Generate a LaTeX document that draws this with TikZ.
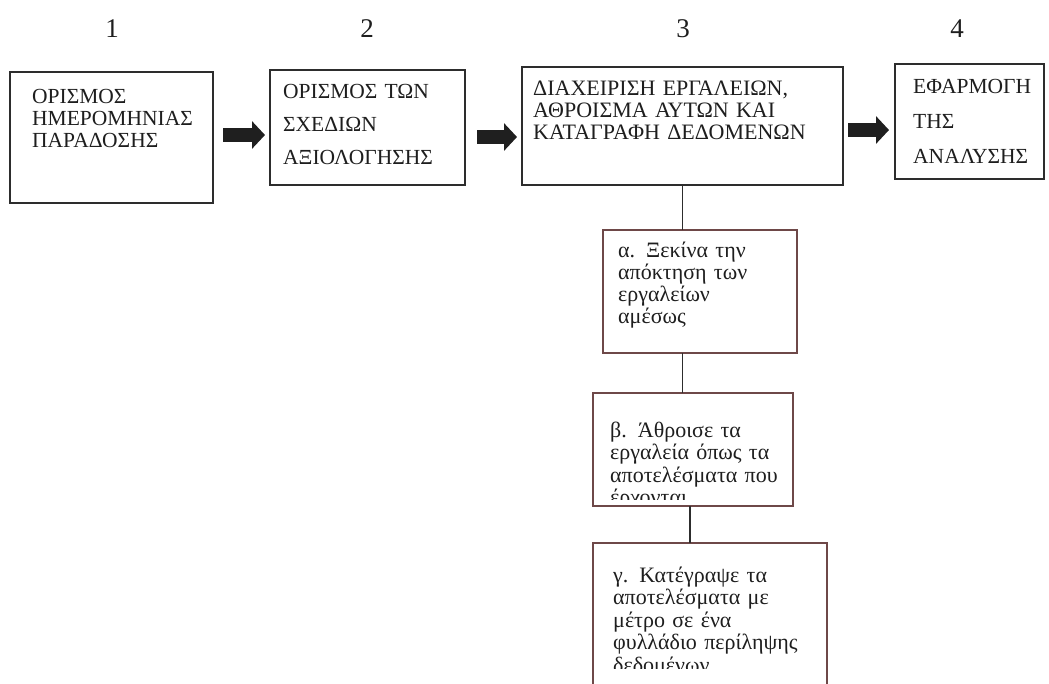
\documentclass[tikz,border=0pt]{standalone}
\usepackage{fontspec}
\setmainfont{Liberation Serif}
\usetikzlibrary{arrows.meta}
\definecolor{boxline}{RGB}{45,45,45}
\definecolor{subline}{RGB}{110,72,72}
\definecolor{inktext}{RGB}{30,30,30}
\begin{document}
\begin{tikzpicture}[x=1pt,y=-1pt,
  box/.style={draw=boxline, line width=1.3pt, rectangle, anchor=north west, inner sep=0pt, outer sep=0pt},
  subbox/.style={box, draw=subline},
  txt/.style={anchor=base west, inner sep=0pt, text width=330pt, align=left, text=inktext},
  num/.style={anchor=base, inner sep=0pt, text=inktext, font=\fontsize{27}{27}\selectfont},
  conn/.style={draw=boxline, line width=1.2pt},
  blk/.style={draw=black!88, line width=13.5pt, -{Triangle[length=13pt,width=27pt]}}]
\useasboundingbox (0,0) rectangle (1049,683);
% numbers
\node[num] (n1) at (112,37) {1};
\node[num] (n2) at (367,37) {2};
\node[num] (n3) at (683,37) {3};
\node[num] (n4) at (957,37) {4};
% top boxes
\node[box, minimum width=203pt, minimum height=131pt] (b1) at (10,72) {};
\node[box, minimum width=195pt, minimum height=115pt] (b2) at (270,70) {};
\node[box, minimum width=321pt, minimum height=118pt] (b3) at (522,67) {};
\node[box, minimum width=149pt, minimum height=115pt] (b4) at (895,64) {};
\node[txt, font=\fontsize{21.5}{22}\selectfont] (t1) at (32,103) {ΟΡΙΣΜΟΣ\\ΗΜΕΡΟΜΗΝΙΑΣ\\ΠΑΡΑΔΟΣΗΣ};
\node[txt, font=\fontsize{21.5}{33}\selectfont] (t2) at (283,98) {ΟΡΙΣΜΟΣ ΤΩΝ\\ΣΧΕΔΙΩΝ\\ΑΞΙΟΛΟΓΗΣΗΣ};
\node[txt, font=\fontsize{22}{22}\selectfont] (t3) at (533,95) {ΔΙΑΧΕΙΡΙΣΗ ΕΡΓΑΛΕΙΩΝ,\\ΑΘΡΟΙΣΜΑ ΑΥΤΩΝ ΚΑΙ\\ΚΑΤΑΓΡΑΦΗ ΔΕΔΟΜΕΝΩΝ};
\node[txt, font=\fontsize{21.5}{35}\selectfont] (t4) at (913,93) {ΕΦΑΡΜΟΓΗ\\ΤΗΣ\\ΑΝΑΛΥΣΗΣ};
% arrows
\draw[blk, shorten <=10pt, shorten >=5pt] ([yshift=2.5pt]b1.east) -- ([yshift=2.5pt]b1.east -| b2.west);
\draw[blk, shorten <=12pt, shorten >=5pt] ([yshift=-9.5pt]b2.east) -- ([yshift=-9.5pt]b2.east -| b3.west);
\draw[blk, shorten <=5pt, shorten >=6pt] ([yshift=-4pt]b3.east) -- ([yshift=-4pt]b3.east -| b4.west);
% sub boxes
\node[subbox, minimum width=194pt, minimum height=123pt] (ba) at (603,230) {};
\node[subbox, minimum width=200pt, minimum height=113pt] (bb) at (593,393) {};
\node[subbox, minimum width=234pt, minimum height=160pt] (bg) at (593,543) {};
\node[txt, font=\fontsize{22}{22}\selectfont] (ta) at (618,257) {α. Ξεκίνα την\\απόκτηση των\\εργαλείων\\αμέσως};
\begin{scope}
  \clip (bb.north west) rectangle ([yshift=7pt]bb.south east);
  \node[txt, font=\fontsize{22}{22.5}\selectfont] (tb) at (610,437) {β. Άθροισε τα\\εργαλεία όπως τα\\αποτελέσματα που\\έρχονται};
\end{scope}
\begin{scope}
  \clip (bg.north west) rectangle (827,668);
  \node[txt, font=\fontsize{22}{22.5}\selectfont] (tg) at (613,582) {γ. Κατέγραψε τα\\αποτελέσματα με\\μέτρο σε ένα\\φυλλάδιο περίληψης\\δεδομένων};
\end{scope}
% connectors
\coordinate (cx) at (690,0);
\draw[conn] (b3.south) -- (b3.south |- ba.north);
\draw[conn] (b3.south |- ba.south) -- (b3.south |- bb.north);
\draw[conn] (bb.south -| cx) -- (bg.north -| cx);
\end{tikzpicture}
\end{document}
